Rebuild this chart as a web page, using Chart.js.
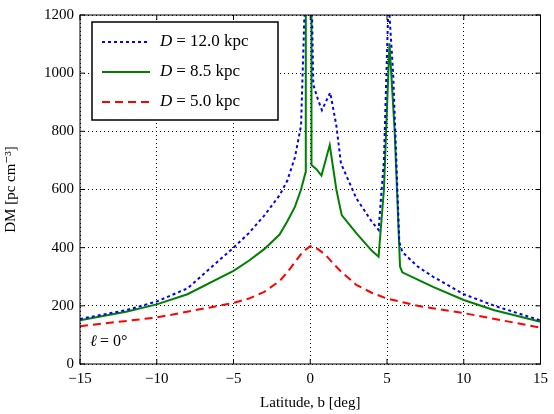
<!DOCTYPE html>
<html><head><meta charset="utf-8">
<script src="https://cdn.jsdelivr.net/npm/chart.js@4"></script>
<style>body{margin:0;background:#fff}#wrap{width:554px;height:414px}</style>
</head><body><div id="wrap"><canvas id="c"></canvas></div>
<script>
const blueB = [-15,-12,-10,-8,-5,-4,-3,-2,-1.5,-1,-0.6,-0.35,0.1,0.2,0.5,0.76,1.3,1.7,2,3,4,4.45,4.8,5.1,5.4,5.8,6,7,8,10,12,15];
const blueDM = [155,185,215,260,400,450,510,580,630,710,820,1250,1250,960,910,873,933,820,690,570,490,461,700,1250,1000,420,385,335,300,240,200,150];
const greenB = [-15,-12,-10,-8,-5,-4,-3,-2,-1.5,-1,-0.6,-0.3,-0.29,0.08,0.08,0.4,0.73,1.27,1.7,2.05,3,4,4.45,4.8,5.16,5.5,5.85,6,7,8,10,12,15];
const greenDM = [150,180,205,240,320,355,395,445,490,540,600,660,1250,1250,684,670,648,753,600,512,450,390,369,600,1103,800,335,315,290,265,220,185,145];
const redB = [-15,-10,-5,-4,-3,-2,-1.5,-1,-0.5,0,0.5,1,1.5,2,3,4,5,7,10,15];
const redDM = [130,160,210,225,248,285,315,350,385,405,395,375,345,318,272,245,225,200,175,125];
const labels = ['D = 12.0 kpc','D = 8.5 kpc','D = 5.0 kpc'];
const xTicks = [-15,-10,-5,0,5,10,15];
const yTicks = [0,200,400,600,800,1000,1200];

const pts = (xs, ys) => xs.map((x, i) => ({x: x, y: ys[i]}));
const FONT = '"Liberation Serif", "DejaVu Serif", serif';

const overlay = {
  id: 'overlay',
  afterDraw(chart) {
    const ctx = chart.ctx, a = chart.chartArea;
    const xs = chart.scales.x, ys = chart.scales.y;
    ctx.save();
    ctx.strokeStyle = '#000'; ctx.lineWidth = 1;
    ctx.strokeRect(a.left, a.top, a.right - a.left, a.bottom - a.top);
    ctx.beginPath();
    xTicks.forEach(v => { const p = xs.getPixelForValue(v);
      ctx.moveTo(p, a.bottom); ctx.lineTo(p, a.bottom - 5);
      ctx.moveTo(p, a.top); ctx.lineTo(p, a.top + 5); });
    yTicks.forEach(v => { const p = ys.getPixelForValue(v);
      ctx.moveTo(a.left, p); ctx.lineTo(a.left + 5, p);
      ctx.moveTo(a.right, p); ctx.lineTo(a.right - 5, p); });
    ctx.stroke();
    // legend
    const lx = a.left + 12, ly = a.top + 7, lw = 186, lh = 98;
    ctx.fillStyle = '#fff'; ctx.fillRect(lx, ly, lw, lh);
    ctx.lineWidth = 1.5; ctx.strokeRect(lx, ly, lw, lh);
    chart.data.datasets.forEach((ds, i) => {
      const yy = ly + 20 + i * 30;
      ctx.strokeStyle = ds.borderColor; ctx.lineWidth = ds.borderWidth;
      ctx.setLineDash(ds.borderDash || []);
      ctx.beginPath(); ctx.moveTo(lx + 10, yy); ctx.lineTo(lx + 58, yy); ctx.stroke();
      ctx.setLineDash([]);
      ctx.fillStyle = '#000'; ctx.textBaseline = 'middle';
      ctx.font = 'italic 17px ' + FONT;
      ctx.fillText('D', lx + 68, yy);
      ctx.font = '17px ' + FONT;
      ctx.fillText(labels[i].slice(1), lx + 80, yy);
    });
    ctx.font = 'italic 16px ' + FONT; ctx.fillStyle = '#000';
    ctx.fillText('ℓ', a.left + 10, a.bottom - 22);
    ctx.font = '16px ' + FONT;
    ctx.fillText(' = 0°', a.left + 16, a.bottom - 22);
    ctx.restore();
  }
};

new Chart(document.getElementById('c'), {
  type: 'line',
  data: { datasets: [
    { data: pts(blueB, blueDM), borderColor: '#0000ff', borderWidth: 2, borderDash: [3, 3] },
    { data: pts(greenB, greenDM), borderColor: '#008000', borderWidth: 2 },
    { data: pts(redB, redDM), borderColor: '#ff0000', borderWidth: 2, borderDash: [8, 5] }
  ]},
  options: {
    responsive: true, maintainAspectRatio: false, animation: false,
    elements: { point: { radius: 0 }, line: { tension: 0 } },
    layout: { padding: { top: 15, right: 11 } },
    plugins: { legend: { display: false }, tooltip: { enabled: false } },
    scales: {
      x: { type: 'linear', min: -15, max: 15,
        afterBuildTicks: s => { s.ticks = xTicks.map(v => ({value: v})); },
        afterFit: s => { s.height = 50; },
        grid: { color: '#000', lineWidth: 1, drawTicks: false },
        border: { display: false, dash: [1, 3] },
        ticks: { color: '#000', font: { family: FONT, size: 15 }, padding: 6,
          callback: v => v < 0 ? '\u2212' + Math.abs(v) : '' + v },
        title: { display: true, text: 'Latitude, b [deg]', color: '#000', font: { family: FONT, size: 15 }, padding: 2 } },
      y: { min: 0, max: 1200,
        afterBuildTicks: s => { s.ticks = yTicks.map(v => ({value: v})); },
        afterFit: s => { s.width = 80; },
        grid: { color: '#000', lineWidth: 1, drawTicks: false },
        border: { display: false, dash: [1, 3] },
        ticks: { color: '#000', font: { family: FONT, size: 15 }, padding: 6, callback: v => '' + v },
        title: { display: true, text: 'DM [pc cm\u207B\u00B3]', color: '#000', font: { family: FONT, size: 15 }, padding: 2 } }
    }
  },
  plugins: [overlay]
});
</script></body></html>
